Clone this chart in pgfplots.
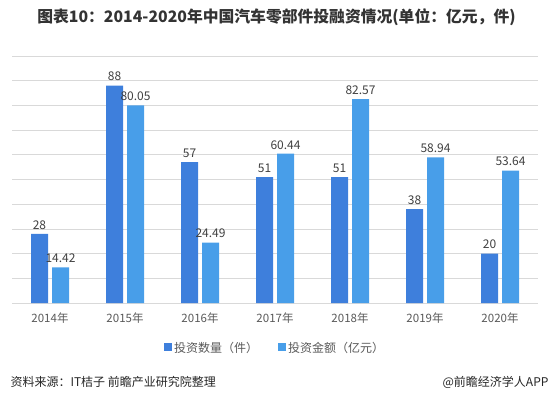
\documentclass[border=0pt]{standalone}
\usepackage{fontspec}
\setmainfont{Noto Sans CJK SC}
\usepackage{pgfplots}
\pgfplotsset{compat=1.18}
\definecolor{darkbar}{RGB}{62,127,220}
\definecolor{lightbar}{RGB}{72,158,233}
\definecolor{txt}{RGB}{64,64,64}
\definecolor{ticktxt}{RGB}{89,89,89}
\definecolor{gridc}{RGB}{217,217,217}
\begin{document}
\begin{tikzpicture}[x=1pt,y=1pt]
\path[use as bounding box] (0,0) rectangle (553,397);
\node[font=\fontsize{15.8}{18}\selectfont\bfseries, text=black!80] at (276.5,380) {图表10：2014-2020年中国汽车零部件投融资情况(单位：亿元，件)};
\begin{axis}[
  at={(12.5pt,94pt)}, anchor=south west,
  scale only axis, width=525pt, height=247pt,
  xmin=-0.5, xmax=6.5, ymin=0, ymax=100,
  ybar=4pt, bar width=17pt,
  axis line style={draw=none},
  ytick={0,10,...,100}, yticklabels={},
  ymajorgrids, grid style={gridc, line width=0.8pt},
  major tick length=0pt,
  xtick={0,1,2,3,4,5,6},
  xticklabels={2014年,2015年,2016年,2017年,2018年,2019年,2020年},
  xticklabel style={font=\fontsize{11.5}{13}\selectfont, text=ticktxt, yshift=-6pt},
  /pgf/number format/assume math mode=true,
  every node near coord/.append style={font=\fontsize{12}{14}\selectfont, text=txt, yshift=1pt},
  legend style={at={(0.5,-0.182)}, anchor=center, legend columns=2, draw=none,
    font=\fontsize{12}{14}\selectfont, text=ticktxt,
    /tikz/every even column/.append style={column sep=18pt}},
  legend image code/.code={\fill[#1,draw=none] (0pt,-3pt) rectangle (8pt,5pt);},
]
\addplot[fill=darkbar, draw=none, nodes near coords={\pgfmathprintnumber[fixed,precision=0,assume math mode=true]{\pgfplotspointmeta}}]
  coordinates {(0,28) (1,88) (2,57) (3,51) (4,51) (5,38) (6,20)};
\addplot[fill=lightbar, draw=none, nodes near coords={\pgfmathprintnumber[fixed,fixed zerofill,precision=2,assume math mode=true]{\pgfplotspointmeta}}]
  coordinates {(0,14.42) (1,80.05) (2,24.49) (3,60.44) (4,82.57) (5,58.94) (6,53.64)};
\legend{投资数量（件）,投资金额（亿元）}
\end{axis}
\node[anchor=west, font=\fontsize{12}{14}\selectfont, text=black!85] at (7,15) {资料来源：IT桔子 前瞻产业研究院整理};
\node[anchor=east, font=\fontsize{12}{14}\selectfont, text=black!85] at (552,15) {@前瞻经济学人APP};
\end{tikzpicture}
\end{document}
